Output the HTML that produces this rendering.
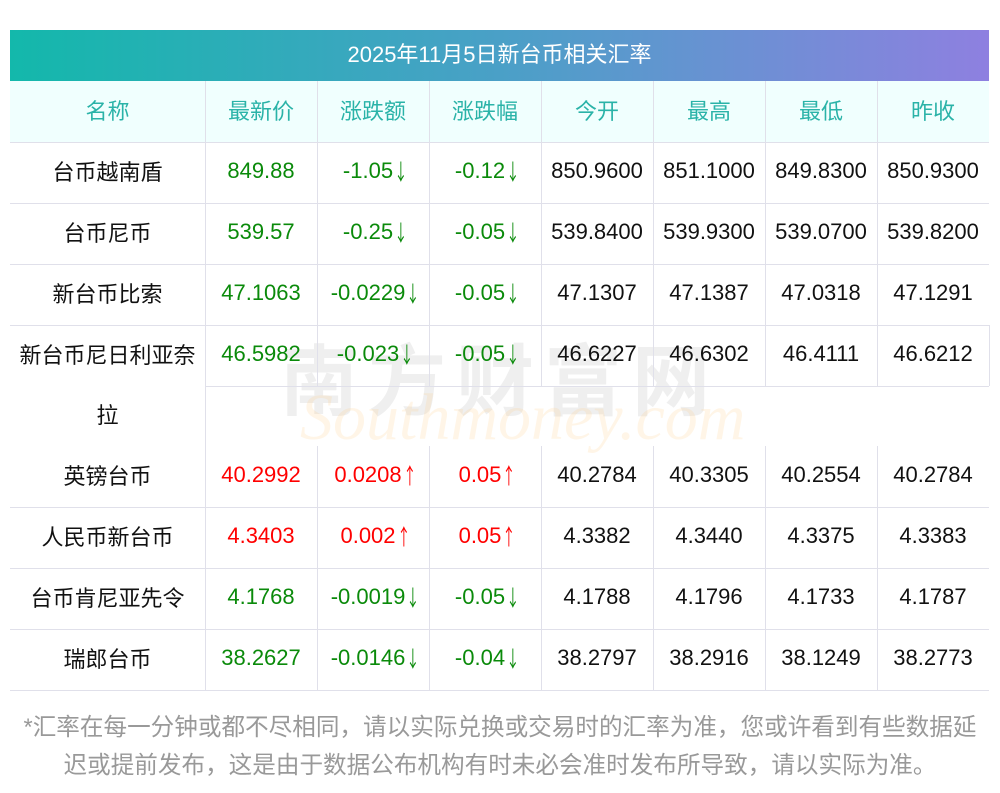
<!DOCTYPE html>
<html><head><meta charset="utf-8"><style>
body{margin:0;width:1000px;height:793px;background:#fff;position:relative;overflow:hidden;font-family:"Liberation Sans","Noto Sans CJK SC",sans-serif}
.t{position:absolute;left:10px;top:30px;width:979px;height:51px;background:linear-gradient(90deg,#13b8ab,#4aa0c7 50%,#8e80e0);color:#fff;font-size:22px;text-align:center;line-height:49px}
.c{position:absolute;display:flex;align-items:center;justify-content:center;font-size:22px;color:#111;box-sizing:border-box;padding-bottom:4px}
.h{color:#2ab3a8}
.g{color:#0a8a0a}.r{color:#f00}
.a{font-family:"Noto Sans CJK SC",sans-serif;display:inline-block;width:11px;transform:scaleX(0.6);text-align:center;margin-left:-1px}
.hl{position:absolute;height:1px;background:#e0e0ea}
.vl{position:absolute;width:1px;background:#e0e0ea}
.f{position:absolute;left:0;width:1000px;text-align:center;font-size:23.6px;color:#999;white-space:nowrap}
</style></head><body>
<div style="position:absolute;left:10px;top:81px;width:979px;height:61px;background:#f0fffe"></div>
<div style="position:absolute;left:280px;top:320px;font-size:78px;color:rgba(120,120,120,0.12);letter-spacing:10px;font-weight:bold">南方财富网</div>
<div style="position:absolute;left:300px;top:380px;font-size:66px;color:rgba(255,200,120,0.18);font-style:italic;font-family:'Liberation Serif',serif">Southmoney.com</div>
<div class="t">2025年11月5日新台币相关汇率</div>
<div id="g"></div>
<div class="f" style="top:708px">*汇率在每一分钟或都不尽相同，请以实际兑换或交易时的汇率为准，您或许看到有些数据延</div>
<div class="f" style="top:746px">迟或提前发布，这是由于数据公布机构有时未必会准时发布所导致，请以实际为准。</div>
<script>
const xs=[10,205,317,429,541,653,765,877,989];
const rows=[
["名称","最新价","涨跌额","涨跌幅","今开","最高","最低","昨收"],
["台币越南盾","849.88","-1.05↓","-0.12↓","850.9600","851.1000","849.8300","850.9300"],
["台币尼币","539.57","-0.25↓","-0.05↓","539.8400","539.9300","539.0700","539.8200"],
["新台币比索","47.1063","-0.0229↓","-0.05↓","47.1307","47.1387","47.0318","47.1291"],
["新台币尼日利亚奈","46.5982","-0.023↓","-0.05↓","46.6227","46.6302","46.4111","46.6212"],
["英镑台币","40.2992","0.0208↑","0.05↑","40.2784","40.3305","40.2554","40.2784"],
["人民币新台币","4.3403","0.002↑","0.05↑","4.3382","4.3440","4.3375","4.3383"],
["台币肯尼亚先令","4.1768","-0.0019↓","-0.05↓","4.1788","4.1796","4.1733","4.1787"],
["瑞郎台币","38.2627","-0.0146↓","-0.04↓","38.2797","38.2916","38.1249","38.2773"]];
const ys=[81,142,203,264,325,446,507,568,629,690];
let h="";
rows.forEach((r,i)=>{let y=ys[i];
 r.forEach((v,j)=>{let cls="c";if(i==0)cls+=" h";else if(j>=1&&j<=3)cls+=(i==5||i==6)?" r":" g";
  let t=v.replace(/([↓↑])/,'<span class="a">$1</span>');
  h+=`<div class="${cls}" style="left:${xs[j]}px;top:${y}px;width:${xs[j+1]-xs[j]}px;height:61px">${t}</div>`;});
 h+=`<div class="hl" style="left:10px;top:${y+61}px;width:979px"></div>`;
 for(let j=1;j<8;j++)h+=`<div class="vl" style="left:${xs[j]}px;top:${y}px;height:${j==1?ys[i+1]-y:61}px"></div>`;
});
h+=`<div class="c" style="left:10px;top:386px;width:195px;height:60px">拉</div>`;
h+=`<div class="hl" style="left:10px;top:386px;width:195px;background:#fff"></div>`;
h+=`<div class="vl" style="left:989px;top:325px;height:61px"></div>`;
document.getElementById("g").innerHTML=h;
</script>
</body></html>
